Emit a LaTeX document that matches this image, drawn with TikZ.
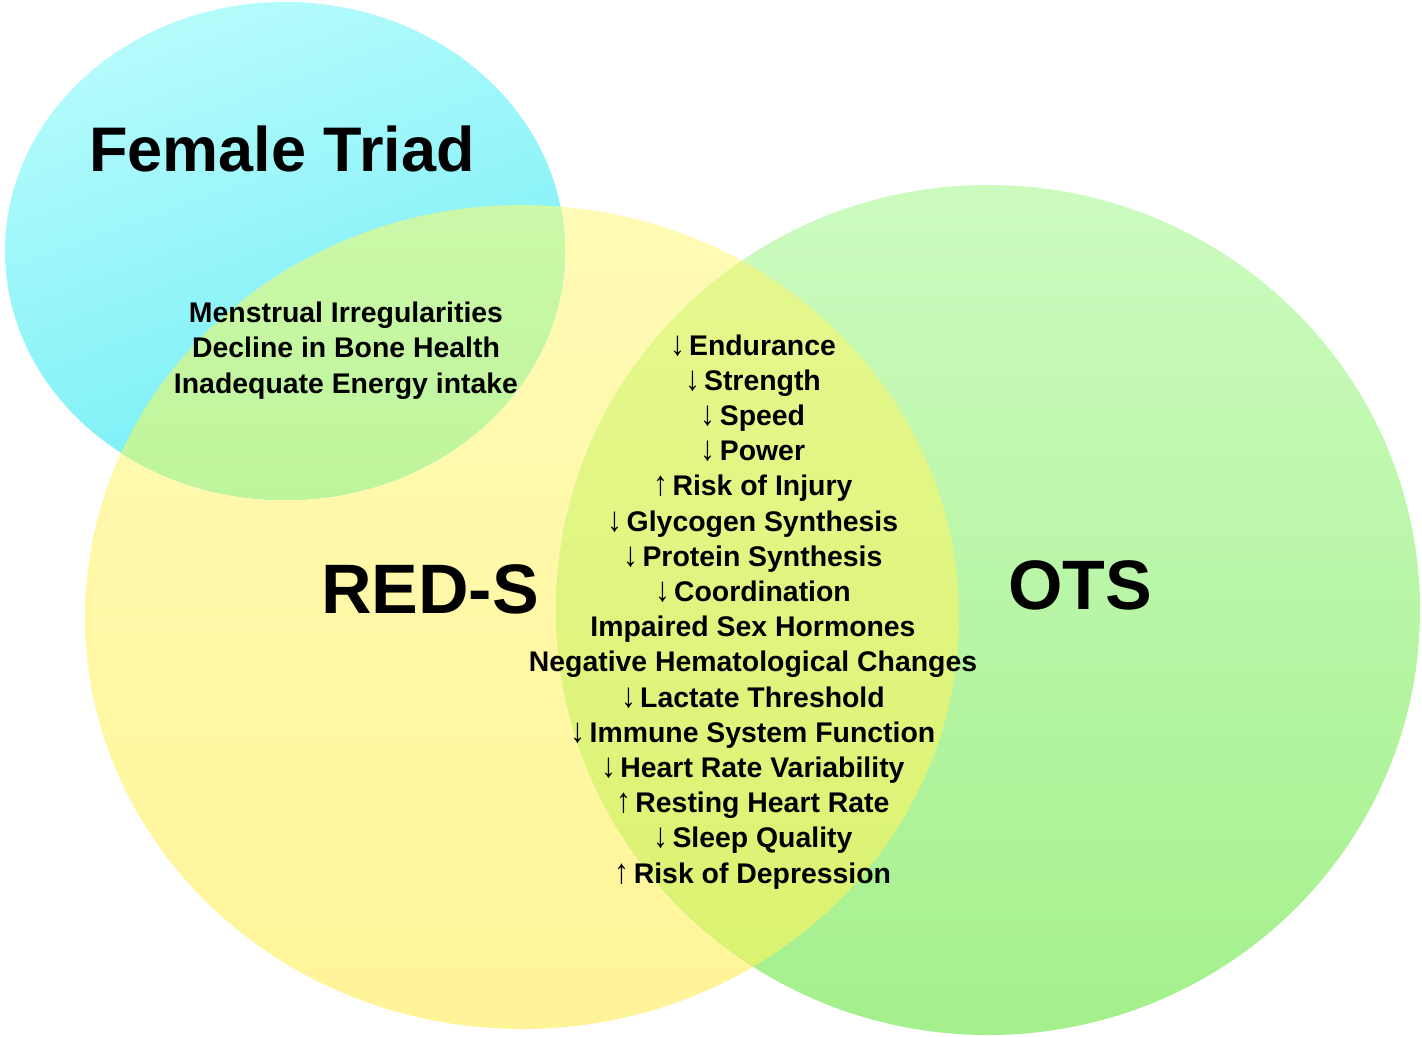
\documentclass[tikz,border=0pt]{standalone}
\usepackage{fontspec}
\usepackage{graphicx}
\setmainfont{Liberation Sans}
\newfontfamily\arrfont{Liberation Sans Bold}
\definecolor{cyanT}{RGB}{182,251,252}
\definecolor{cyanB}{RGB}{112,238,246}
\definecolor{yelT}{RGB}{255,251,182}
\definecolor{yelB}{RGB}{255,244,152}
\definecolor{grnT}{RGB}{204,251,192}
\definecolor{grnB}{RGB}{164,240,140}
\definecolor{ygT}{RGB}{230,248,145}
\definecolor{ygB}{RGB}{218,242,110}
\definecolor{cyT}{RGB}{212,250,178}
\definecolor{cyB}{RGB}{190,245,155}
\newcommand{\dn}{\smash{\scalebox{1.05}[1.22]{\arrfont\char"2193}}\kern2pt}
\newcommand{\up}{\smash{\scalebox{1.05}[1.22]{\arrfont\char"2191}}\kern2pt}
\begin{document}
\begin{tikzpicture}[x=0.5pt,y=-0.5pt,
  titlefont/.style={font=\fontsize{31.5}{36}\selectfont\bfseries},
  bigfont/.style={font=\fontsize{35}{40}\selectfont\bfseries},
  listtext/.style={font=\fontsize{14.2}{17}\selectfont\bfseries, anchor=base, inner sep=0pt},
  lbl/.style={anchor=base, inner sep=0pt}]
\path[use as bounding box] (0,0) rectangle (1422,1037);
\def\cyanpath{(285,251) ellipse [x radius=140pt, y radius=124.5pt]}
\def\yelpath{(522,617) ellipse [x radius=218.5pt, y radius=206pt]}
\def\grnpath{(988,610) ellipse [x radius=216pt, y radius=212.5pt]}
% circles
\path[top color=yelT, bottom color=yelB] \yelpath;
\path[top color=grnT, bottom color=grnB] \grnpath;
\path[top color=cyanT, bottom color=cyanB, shading angle=20] \cyanpath;
% overlaps
\begin{scope}
  \clip \yelpath;
  \path[top color=ygT, bottom color=ygB] \grnpath;
\end{scope}
\begin{scope}
  \clip \yelpath;
  \path[top color=cyT, bottom color=cyB] \cyanpath;
\end{scope}
% titles
\node[lbl, titlefont] (ft) at (282,172) {Female Triad};
\node[lbl, bigfont] (reds) at (430,613) {RED-S};
\node[lbl, bigfont] (ots) at (1080,609) {OTS};
% female triad list
\node[listtext] (f1) at (346,322) {Menstrual Irregularities};
\node[listtext] (f2) at (346,357.5) {Decline in Bone Health};
\node[listtext] (f3) at (346,393) {Inadequate Energy intake};
% shared list
\node[listtext] (c1) at (753,355.0) {\dn Endurance};
\node[listtext] (c2) at (753,390.2) {\dn Strength};
\node[listtext] (c3) at (753,425.4) {\dn Speed};
\node[listtext] (c4) at (753,460.6) {\dn Power};
\node[listtext] (c5) at (753,495.8) {\up Risk of Injury};
\node[listtext] (c6) at (753,531.0) {\dn Glycogen Synthesis};
\node[listtext] (c7) at (753,566.2) {\dn Protein Synthesis};
\node[listtext] (c8) at (753,601.4) {\dn Coordination};
\node[listtext] (c9) at (753,636.6) {Impaired Sex Hormones};
\node[listtext] (c10) at (753,671.8) {Negative Hematological Changes};
\node[listtext] (c11) at (753,707.0) {\dn Lactate Threshold};
\node[listtext] (c12) at (753,742.2) {\dn Immune System Function};
\node[listtext] (c13) at (753,777.4) {\dn Heart Rate Variability};
\node[listtext] (c14) at (753,812.6) {\up Resting Heart Rate};
\node[listtext] (c15) at (753,847.8) {\dn Sleep Quality};
\node[listtext] (c16) at (753,883.0) {\up Risk of Depression};
\end{tikzpicture}
\end{document}
